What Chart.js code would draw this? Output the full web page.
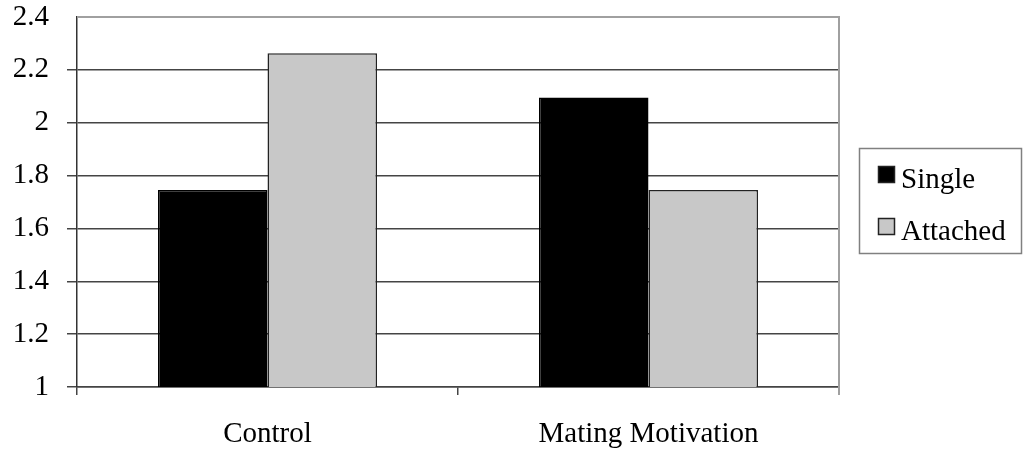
<!DOCTYPE html>
<html>
<head>
<meta charset="utf-8">
<script src="https://cdn.jsdelivr.net/npm/chart.js@4.4.0/dist/chart.umd.min.js"></script>
<style>
  html, body { margin: 0; padding: 0; background: #fff; }
  #wrap { width: 1024px; height: 456px; }
</style>
</head>
<body>
<div id="wrap"><canvas id="chart" width="1024" height="456"></canvas></div>
<script>
// data
const categories = ['Control', 'Mating Motivation'];
const singleValues = [1.745, 2.095];
const attachedValues = [2.263, 1.745];
const seriesNames = ['Single', 'Attached'];
const yTicks = [1, 1.2, 1.4, 1.6, 1.8, 2, 2.2, 2.4];

const FONT = '"Liberation Serif", "Times New Roman", serif';

// plot border (top + right) and boxed legend, like the old excel chart
const frame = {
  id: 'frame',
  afterDraw(chart) {
    const ctx = chart.ctx;
    const a = chart.chartArea;
    ctx.save();
    ctx.strokeStyle = '#a0a0a0';
    ctx.lineWidth = 2;
    ctx.beginPath();
    ctx.moveTo(a.left, a.top);
    ctx.lineTo(a.right, a.top);
    ctx.lineTo(a.right, a.bottom + 8);
    ctx.stroke();

    // legend
    ctx.strokeStyle = '#808080';
    ctx.lineWidth = 1.5;
    ctx.strokeRect(859.5, 148.5, 162, 105);
    ctx.font = '29px ' + FONT;
    ctx.textBaseline = 'alphabetic';
    chart.data.datasets.forEach((ds, i) => {
      const y = 166 + i * 52;
      ctx.fillStyle = ds.backgroundColor;
      ctx.fillRect(878, y, 17, 17);
      ctx.strokeStyle = '#222';
      ctx.lineWidth = 1.5;
      ctx.strokeRect(878.5, y + 0.5, 16, 16);
      ctx.fillStyle = '#000';
      ctx.fillText(ds.label, 901, y + 22);
    });
    ctx.restore();
  }
};

new Chart(document.getElementById('chart'), {
  type: 'bar',
  data: {
    labels: categories,
    datasets: [
      {
        label: seriesNames[0],
        data: singleValues,
        backgroundColor: '#000000',
        borderColor: '#000000',
        borderWidth: 1.5
      },
      {
        label: seriesNames[1],
        data: attachedValues,
        backgroundColor: '#c8c8c8',
        borderColor: '#222222',
        borderWidth: 1.5
      }
    ]
  },
  options: {
    responsive: false,
    animation: false,
    layout: { padding: { top: 17, right: 185, left: 0, bottom: 0 } },
    datasets: {
      bar: { categoryPercentage: 0.575, barPercentage: 1.0 }
    },
    plugins: {
      legend: { display: false },
      tooltip: { enabled: false }
    },
    scales: {
      x: {
        offset: true,
        grid: {
          offset: true,
          drawOnChartArea: false,
          tickLength: 8,
          color: '#444',
          lineWidth: 1.5
        },
        border: { color: '#444', width: 1.5 },
        ticks: {
          color: '#000',
          font: { family: FONT, size: 29 },
          padding: 22
        },
        afterFit(scale) {
          scale.height = 69;
          scale.paddingLeft = 0;
          scale.paddingRight = 0;
        }
      },
      y: {
        min: 1,
        max: 2.4,
        afterBuildTicks(scale) {
          scale.ticks = yTicks.map(v => ({ value: v }));
        },
        grid: {
          color: ctx => (ctx.tick && Math.abs(ctx.tick.value - 2.4) < 1e-6) ? 'rgba(0,0,0,0)' : '#444',
          lineWidth: 1.5,
          tickLength: 10
        },
        border: { color: '#333', width: 1.5 },
        ticks: {
          color: '#000',
          font: { family: FONT, size: 29 },
          padding: 18,
          callback: v => String(Number(v.toFixed(1)))
        },
        afterFit(scale) {
          scale.width = 77;
          scale.paddingTop = 0;
          scale.paddingBottom = 0;
        }
      }
    }
  },
  plugins: [frame]
});
</script>
</body>
</html>
